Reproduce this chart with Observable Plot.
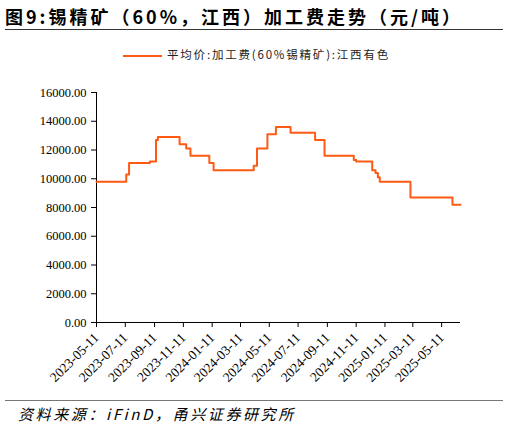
<!DOCTYPE html>
<html>
<head>
<meta charset="utf-8">
<script src="https://cdn.jsdelivr.net/npm/d3@7"></script>
<script src="https://cdn.jsdelivr.net/npm/@observablehq/plot@0.6"></script>
<style>
  body { margin: 0; background: #fff; }
  #wrap { position: relative; width: 509px; height: 429px; overflow: hidden; }
  #title { position: absolute; left: 5px; top: 3px; font: bold 18px "Noto Sans CJK SC", sans-serif; letter-spacing: 3px; color: #000; white-space: nowrap; }
  #rule1 { position: absolute; left: 5px; top: 29px; width: 498px; height: 1px; background: #333; }
  #legend { position: absolute; left: 123px; top: 46px; font: 11.5px "Noto Sans CJK SC", sans-serif; letter-spacing: 1.8px; color: #222; white-space: nowrap; }
  #legend span.sw { display: inline-block; width: 39px; height: 2px; background: #ff5a14; vertical-align: middle; margin-right: 5px; }
  #chart { position: absolute; left: 0; top: 70px; }
  #rule2 { position: absolute; left: 5px; top: 400px; width: 498px; height: 1px; background: #777; }
  #source { position: absolute; left: 18px; top: 403px; font: italic 15px "Noto Sans CJK SC", serif; letter-spacing: 2.6px; color: #000; white-space: nowrap; }
</style>
</head>
<body>
<div id="wrap">
  <div id="title">图9:锡精矿（60%，江西）加工费走势（元/吨）</div>
  <div id="rule1"></div>
  <div id="legend"><span class="sw"></span>平均价:加工费(60%锡精矿):江西有色</div>
  <div id="chart"></div>
  <div id="rule2"></div>
  <div id="source">资料来源：iFinD，甬兴证券研究所</div>
</div>
<script>
// dates where the fee changes (step series), last one is the end of the data
const changeDates = ["2023-05-11", "2023-07-13", "2023-07-19", "2023-09-01", "2023-09-14", "2023-09-18",
  "2023-11-03", "2023-11-17", "2023-11-26", "2024-01-05", "2024-01-14", "2024-04-08", "2024-04-15",
  "2024-05-07", "2024-05-25", "2024-06-25", "2024-08-16", "2024-09-05", "2024-11-06", "2024-11-11",
  "2024-12-15", "2024-12-22", "2024-12-27", "2024-12-31", "2025-03-06", "2025-06-03", "2025-06-20"]
const feeValues = [9800, 10300, 11100, 11200, 12700, 12900,
  12400, 12100, 11600, 11100, 10600, 10900, 12100,
  13100, 13600, 13200, 12700, 11600, 11300, 11200,
  10600, 10400, 10100, 9800, 8700, 8200, 8200]
const xTickLabels = ["2023-05-11", "2023-07-11", "2023-09-11", "2023-11-11", "2024-01-11", "2024-03-11",
  "2024-05-11", "2024-07-11", "2024-09-11", "2024-11-11", "2025-01-11", "2025-03-11", "2025-05-11"]
const yTicks = [0, 2000, 4000, 6000, 8000, 10000, 12000, 14000, 16000]

const parse = d3.utcParse("%Y-%m-%d")
const data = changeDates.map((d, i) => ({date: parse(d), fee: feeValues[i]}))
const xTicks = xTickLabels.map(parse)
const xDomain = [parse("2023-05-11"), parse("2025-06-20")]
const serif = "'Liberation Serif', 'Times New Roman', serif"

let chart = Plot.plot({
  width: 509,
  height: 330,
  marginLeft: 96,
  marginRight: 49,
  marginTop: 22,
  marginBottom: 78,
  style: {fontFamily: serif, fontSize: "12px", color: "#000"},
  x: {type: "utc", domain: xDomain},
  y: {domain: [0, 16000]},
  marks: [
    Plot.axisY({ticks: yTicks, tickFormat: d => d.toFixed(2), tickSize: 5, tickPadding: 5, label: null,
      fontSize: 12.5, fontFamily: serif, fill: "#000"}),
    Plot.axisX({ticks: xTicks, tickFormat: d3.utcFormat("%Y-%m-%d"), tickSize: 5, tickRotate: -45, tickPadding: 8,
      label: null, fontSize: 13.5, fontFamily: serif, fill: "#000"}),
    Plot.ruleX([xDomain[0]], {stroke: "#000"}),
    Plot.ruleY([0], {stroke: "#000"}),
    Plot.line(data, {x: "date", y: "fee", curve: "step-after", stroke: "#ff5a14", strokeWidth: 2})
  ]
})

d3.select('#chart').append(() => chart)
</script>
</body>
</html>
